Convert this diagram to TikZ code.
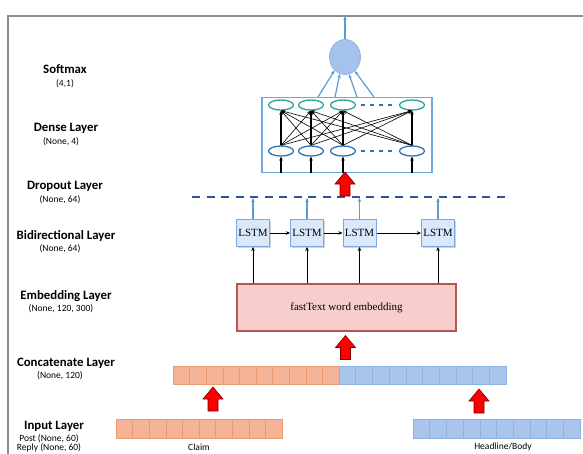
\documentclass[tikz,border=0pt]{standalone}
\usepackage{fontspec}
\setmainfont{Carlito}
\newfontfamily\serifface{Liberation Serif}
\usetikzlibrary{shapes.geometric,arrows.meta,shadows}
\definecolor{framecol}{HTML}{8C8C8C}
\definecolor{boxblue}{HTML}{6FA8DC}
\definecolor{ovalteal}{HTML}{2BA39B}
\definecolor{ovalblue}{HTML}{2E75B6}
\definecolor{arrblue}{HTML}{5B9BD5}
\definecolor{smfill}{HTML}{A4C2EC}
\definecolor{smdraw}{HTML}{93B3E3}
\definecolor{dropcol}{HTML}{2F5597}
\definecolor{lstmfill}{HTML}{DAE8FC}
\definecolor{lstmdraw}{HTML}{7EA6E0}
\definecolor{embfill}{HTML}{F8CECC}
\definecolor{embdraw}{HTML}{B85450}
\definecolor{orfill}{HTML}{F5B497}
\definecolor{orline}{HTML}{EE9A70}
\definecolor{blfill}{HTML}{A9C5EB}
\definecolor{blline}{HTML}{8DB3E2}
\definecolor{darkred}{HTML}{7A0000}
\tikzset{
  lab/.style={font=\bfseries\fontsize{12.8}{13}\selectfont, inner sep=0pt},
  sublab/.style={font=\fontsize{9.5}{9.5}\selectfont, inner sep=0pt},
  oval/.style={ellipse, minimum width=25pt, minimum height=10pt, inner sep=0pt, fill=white, line width=1.3pt},
  topoval/.style={oval, draw=ovalteal},
  botoval/.style={oval, draw=ovalblue},
  blk/.style={-{Stealth[length=4pt,width=3.5pt]}, line width=0.6pt, black},
  blkthick/.style={-{Stealth[length=4pt,width=3.5pt]}, line width=1.1pt, black},
  bluearr/.style={-{Stealth[length=4pt,width=3.5pt]}, line width=1.2pt, arrblue},
  lstmbox/.style={draw=lstmdraw, fill=lstmfill, line width=1pt, minimum width=33pt, minimum height=27pt, inner sep=0pt,
    font=\serifface\fontsize{11}{11}\selectfont, drop shadow={shadow xshift=1.2pt, shadow yshift=-1.2pt, opacity=0.35}},
  embbox/.style={draw=embdraw, fill=embfill, line width=1.2pt, minimum width=219pt, minimum height=47pt, inner sep=0pt,
    font=\serifface\fontsize{11}{11}\selectfont, drop shadow={shadow xshift=1.2pt, shadow yshift=-1.2pt, opacity=0.3}},
  redup/.pic={\draw[fill=red, draw=darkred, line width=0.6pt] (-5,0) -- (-5,-12) -- (-10,-12) -- (0,-24) -- (10,-12) -- (5,-12) -- (5,0) -- cycle;},
  orbar/.style={fill=orfill, draw=orline, line width=0.5pt, minimum width=166pt, minimum height=18.5pt, inner sep=0pt, anchor=north west},
  blbar/.style={fill=blfill, draw=blline, line width=0.5pt, minimum width=167pt, minimum height=18.5pt, inner sep=0pt, anchor=north west},
}
\begin{document}
\begin{tikzpicture}[x=1pt,y=-1pt]
\useasboundingbox (0,0) rectangle (583,453);
% frame
\draw[framecol, line width=1.5pt] (8,460) -- (8,16) -- (590,16);

% labels
\node[lab] (l1a) at (65,69.5) {Softmax};
\node[sublab] (l1b) at (65,84) {(4,1)};
\node[lab] (l2a) at (66,128) {Dense Layer};
\node[sublab] (l2b) at (61,142) {(None, 4)};
\node[lab] (l3a) at (65,186.5) {Dropout Layer};
\node[sublab] (l3b) at (60,199.5) {(None, 64)};
\node[lab] (l4a) at (66,236.5) {Bidirectional Layer};
\node[sublab] (l4b) at (60,248.5) {(None, 64)};
\node[lab] (l5a) at (66,296) {Embedding Layer};
\node[sublab] (l5b) at (61,309) {(None, 120, 300)};
\node[lab] (l6a) at (66,363) {Concatenate Layer};
\node[sublab] (l6b) at (60,376) {(None, 120)};
\node[lab] (l7a) at (54,426.5) {Input Layer};
\node[sublab] (l7b) at (49,439) {Post (None, 60)};
\node[sublab] (l7c) at (49,448) {Reply (None, 60)};

% softmax
\node[ellipse, minimum width=31pt, minimum height=35pt, inner sep=0pt, fill=smfill, draw=smdraw, line width=0.8pt] (sm) at (345,57) {};
\coordinate (smout) at (345,16);
\draw[bluearr] (sm.north) -- (smout);

% dense box
\node[draw=boxblue, line width=1.6pt, minimum width=170pt, minimum height=75pt, inner sep=0pt] (dense) at (347,135) {};
\foreach \n/\x in {1/281,2/311,3/343,4/412}{
  \node[topoval] (t\n) at (\x,105) {};
  \node[botoval] (b\n) at (\x,151) {};
  \coordinate (in\n) at (\x,172.5);
}
\foreach \i in {1,...,4}{
  \foreach \j in {1,...,4}{
    \ifnum\i=\j\relax
      \draw[blkthick] (b\i.north) -- (t\j.south);
    \else
      \draw[blk] (b\i.north) -- (t\j.south);
    \fi
  }
  \draw[blkthick] (in\i) -- (b\i.south);
}
\draw[ovalblue, line width=1.6pt, dash pattern=on 4pt off 5pt, shorten <=5pt, shorten >=4pt] (t3.east) -- (t4.west);
\draw[ovalblue, line width=1.6pt, dash pattern=on 4pt off 5pt, shorten <=5pt, shorten >=4pt] (b3.east) -- (b4.west);
% arrows to softmax
\coordinate (s1) at (318,97);
\coordinate (s2) at (335,97);
\coordinate (s3) at (357,97);
\coordinate (s4) at (374,97);
\draw[bluearr] (s1) -- (sm.232);
\draw[bluearr] (s2) -- (sm.253);
\draw[bluearr] (s3) -- (sm.283);
\draw[bluearr] (s4) -- (sm.305);

% dropout
\coordinate (dl) at (192,197);
\coordinate (dr) at (506,197);
\draw[dropcol, line width=2.4pt, dash pattern=on 8pt off 6.5pt] (dl) -- (dr);
\pic at (345,196) {redup};

% LSTMs
\foreach \n/\x in {1/253,2/307,3/359.5,4/438}{
  \node[lstmbox] (m\n) at (\x,233) {LSTM};
  \coordinate (u\n) at (\x,198);
  \draw[bluearr] (m\n.north) -- (u\n);
}
\draw[blk] (m1.east) -- (m2.west);
\draw[blk] (m2.east) -- (m3.west);
\draw[blk] (m3.east) -- (m4.west);

% embedding
\node[embbox] (emb) at (346.5,307.5) {fastText word embedding};
\foreach \n in {1,...,4}{
  \draw[blk] (emb.north -| m\n.south) -- (m\n.south);
}
\pic at (345.5,359.5) {redup};

% concat bar
\node[orbar] (cl) at (173,365.5) {};
\node[blbar] (cr) at (339,365.5) {};
\foreach \i in {1,...,9}{
  \draw[orline, line width=0.6pt] (173+\i*16.6,365.5) -- (173+\i*16.6,384);
  \draw[blline, line width=0.6pt] (339+\i*16.7,365.5) -- (339+\i*16.7,384);
}

% inputs
\node[orbar] (claim) at (116,419) {};
\node[blbar] (head) at (413,419) {};
\foreach \i in {1,...,9}{
  \draw[orline, line width=0.6pt] (116+\i*16.6,419) -- (116+\i*16.6,437.5);
  \draw[blline, line width=0.6pt] (413+\i*16.7,419) -- (413+\i*16.7,437.5);
}
\pic at (213,411) {redup};
\pic at (479,413) {redup};
\node[sublab] (tclaim) at (199,447.5) {Claim};
\node[sublab] (thead) at (503,446.5) {Headline/Body};
\end{tikzpicture}
\end{document}
